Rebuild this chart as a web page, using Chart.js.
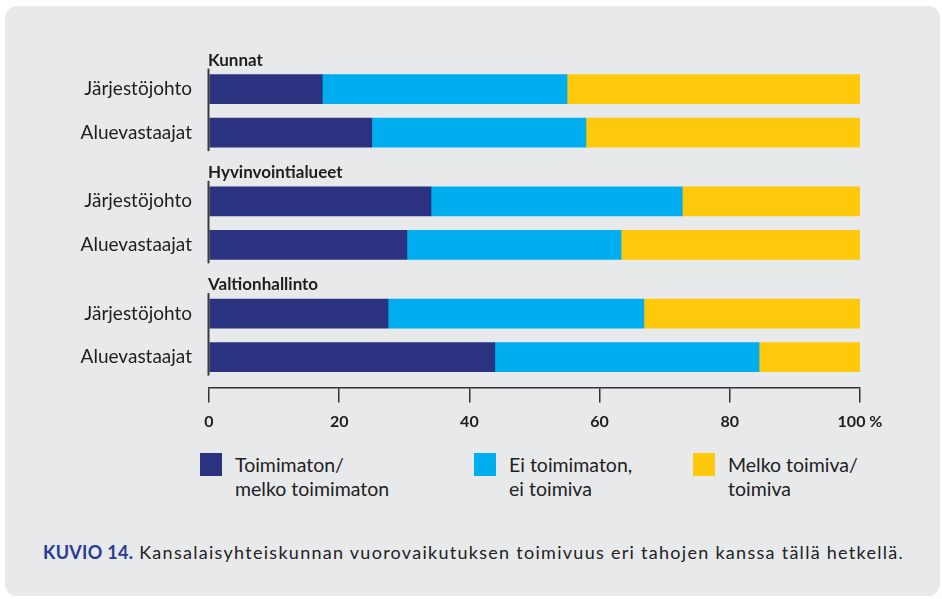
<!DOCTYPE html>
<html><head><meta charset="utf-8">
<script src="https://cdn.jsdelivr.net/npm/chart.js@4/dist/chart.umd.min.js"></script>
<style>
html,body{margin:0;padding:0;background:#fff;width:942px;height:599px;overflow:hidden;font-family:Lato,"Open Sans",sans-serif;}
#panel{position:absolute;left:5px;top:6px;width:935px;height:590px;background:#e8e9eb;border-radius:12px;}
#wrap{position:absolute;left:0;top:0;width:942px;height:440px;}
#legend{position:absolute;left:0;top:0;}
.li{position:absolute;top:453px;}
.sw{position:absolute;left:0;top:0;width:22px;height:23px;}
.lt{position:absolute;left:35px;top:0px;font-size:19.5px;line-height:24px;color:#222;white-space:nowrap;}
#caption{position:absolute;left:43px;top:541px;font-size:18px;letter-spacing:1.28px;color:#222;white-space:nowrap;}
#caption b{color:#2a3b94;letter-spacing:0.3px;}
</style></head>
<body>
<div id="panel"></div>
<div id="wrap"><canvas id="c" width="942" height="440"></canvas></div>
<div id="legend"></div>
<div id="caption"><b>KUVIO 14.</b> Kansalaisyhteiskunnan vuorovaikutuksen toimivuus eri tahojen kanssa tällä hetkellä.</div>
<script>
const groups = ['Kunnat', 'Hyvinvointialueet', 'Valtionhallinto'];
const rowLabels = ['Järjestöjohto', 'Aluevastaajat'];
const seriesNames = [['Toimimaton/', 'melko toimimaton'], ['Ei toimimaton,', 'ei toimiva'], ['Melko toimiva/', 'toimiva']];
const seriesColors = ['#2b3381', '#00aeef', '#ffc90b'];
const poor    = [17.4, 25.0, 34.1, 30.4, 27.5, 43.9];
const neutral = [37.6, 32.9, 38.6, 32.9, 39.3, 40.6];
const good    = [45.0, 42.1, 27.3, 36.7, 33.2, 15.5];
const xTicks  = [0, 20, 40, 60, 80, 100];

const GAP = 0.58;
const positions = [], labels = [];
groups.forEach((g, gi) => rowLabels.forEach((r, ri) => {
  positions.push(gi * (rowLabels.length + GAP) + ri);
  labels.push(r);
}));

const mk = (arr, i) => ({
  label: seriesNames[i].join(' '),
  data: arr.map((v, j) => ({x: v, y: positions[j]})),
  backgroundColor: seriesColors[i],
  borderWidth: 0,
  barThickness: 29
});

const groupPlugin = {
  id: 'groupDeco',
  afterDatasetsDraw(chart) {
    const ctx = chart.ctx;
    const x0 = chart.scales.x.getPixelForValue(0);
    const bars = chart.getDatasetMeta(0).data;
    ctx.save();
    ctx.strokeStyle = '#3a3a3a';
    ctx.lineWidth = 2;
    groups.forEach((g, gi) => {
      const first = bars[gi * rowLabels.length];
      const last = bars[gi * rowLabels.length + rowLabels.length - 1];
      const top = first.y - first.height / 2 - 6;
      const bot = last.y + last.height / 2 + 4;
      ctx.beginPath();
      ctx.moveTo(x0 - 0.5, top);
      ctx.lineTo(x0 - 0.5, bot);
      ctx.stroke();
      ctx.fillStyle = '#1e1e1e';
      ctx.font = 'bold 17px Lato, "Open Sans", sans-serif';
      ctx.textBaseline = 'middle';
      ctx.textAlign = 'left';
      ctx.fillText(g, x0 - 1, first.y - 29);
    });
    ctx.restore();
  }
};

new Chart(document.getElementById('c'), {
  type: 'bar',
  data: { datasets: [mk(poor, 0), mk(neutral, 1), mk(good, 2)] },
  options: {
    indexAxis: 'y',
    responsive: false,
    animation: false,
    layout: { padding: { top: 50, bottom: 2.5, left: 0, right: 82 } },
    plugins: { legend: { display: false }, tooltip: { enabled: false } },
    scales: {
      x: {
        type: 'linear', stacked: true, min: 0, max: 100, position: 'bottom',
        afterBuildTicks: s => { s.ticks = xTicks.map(v => ({value: v})); },
        afterFit: s => { s.height = 50; },
        grid: { drawOnChartArea: false, drawTicks: true, tickLength: 15, color: '#333', lineWidth: 1.5 },
        border: { display: true, color: '#333', width: 1.5 },
        ticks: {
          padding: 10, color: '#1e1e1e', autoSkip: false, maxRotation: 0,
          font: { family: 'Lato, "Open Sans", sans-serif', size: 16, weight: 'bold' },
          callback: v => v === 100 ? '100 %' : String(v)
        }
      },
      y: {
        type: 'linear', stacked: true, reverse: true, offset: false, min: -0.9, max: 6.86,
        afterBuildTicks: s => { s.ticks = positions.map(v => ({value: v})); },
        afterFit: s => { s.width = 209; },
        grid: { display: false, drawTicks: false },
        border: { display: false },
        ticks: {
          padding: 17, color: '#1e1e1e', autoSkip: false,
          font: { family: 'Lato, "Open Sans", sans-serif', size: 19 },
          callback: (v, i) => labels[i]
        }
      }
    }
  },
  plugins: [groupPlugin]
});

const legendX = [200, 474, 693];
const leg = document.getElementById('legend');
seriesNames.forEach((n, i) => {
  const d = document.createElement('div');
  d.className = 'li';
  d.style.left = legendX[i] + 'px';
  d.innerHTML = '<div class="sw" style="background:' + seriesColors[i] + '"></div><div class="lt">' + n.join('<br>') + '</div>';
  leg.appendChild(d);
});
</script>
</body></html>
